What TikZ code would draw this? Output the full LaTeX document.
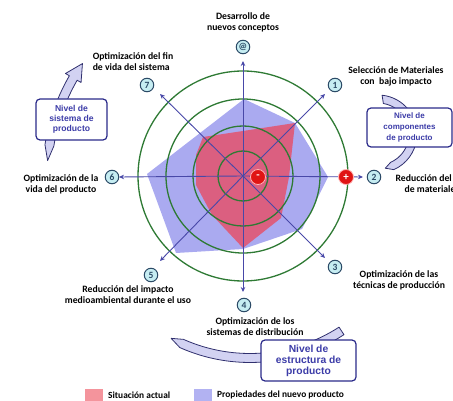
\documentclass[tikz,border=0pt]{standalone}
\usepackage{fontspec}
\setmainfont{Carlito}
\newfontfamily\boxfont{Liberation Sans}
\usetikzlibrary{arrows.meta}
\definecolor{ringgreen}{HTML}{2E7A34}
\definecolor{axisblue}{HTML}{4848A8}
\definecolor{nuevofill}{HTML}{AAAAF0}
\definecolor{actualfill}{HTML}{DB5F80}
\definecolor{actualleg}{HTML}{F4949C}
\definecolor{nuevoleg}{HTML}{B2B2F2}
\definecolor{numfill}{HTML}{C6EDF2}
\definecolor{numline}{HTML}{2B4A66}
\definecolor{boxline}{HTML}{2B2B8A}
\definecolor{boxtext}{HTML}{3C3CA8}
\definecolor{bandfill}{HTML}{D2D2F2}
\definecolor{bandline}{HTML}{30306E}
\definecolor{signred}{HTML}{E01414}
\tikzset{
  ring/.style={draw=ringgreen, line width=1.3pt},
  axis/.style={draw=axisblue, line width=0.9pt, ->},
  num/.style={circle, draw=numline, fill=numfill, line width=1pt, inner sep=0pt,
    minimum size=13.5pt, text=numline, font=\fontsize{9.5}{10}\selectfont\bfseries},
  sign/.style={circle, fill=signred, draw=red!30, line width=0.8pt, inner sep=0pt,
    minimum size=15pt, text=white, font=\fontsize{11}{11}\selectfont\bfseries},
  lbl/.style={align=center, inner sep=0pt, font=\fontsize{9.7}{11}\selectfont\bfseries},
  nivel/.style={draw=boxline, fill=white, rounded corners=4pt, line width=1.2pt,
    align=center, inner sep=0pt, text=boxtext},
  band/.style={draw=bandline, fill=bandfill, line width=0.8pt, line join=round},
  legbox/.style={inner sep=0pt, minimum width=18pt, minimum height=13pt},
  legtxt/.style={anchor=west, inner sep=0pt, font=\fontsize{9.4}{10}\selectfont\bfseries}
}
\begin{document}
\begin{tikzpicture}[x=1pt,y=-1pt,>={Stealth[length=5pt,width=4.5pt]}]
\useasboundingbox (0,0) rectangle (453,401);
\coordinate (O) at (243,176);

% propiedades del nuevo producto
\fill[nuevofill] (244,99) -- (295,123) -- (328,177) -- (302,229) -- (243,249)
  -- (176,253) -- (147,174) -- cycle;
% situacion actual
\fill[actualfill] (203,137) -- (243,131) -- (295,123) -- (289,177) -- (281,218)
  -- (243,248) -- (212,215) -- (196,185) -- (196,155) -- cycle;

% anillos
\foreach \r in {25,50,77,105}
  \draw[ring] (O) circle[radius=\r];

% ejes
\coordinate (tN) at (243,61);   \coordinate (tNE) at (325,94);
\coordinate (tE) at (363,177);  \coordinate (tSE) at (325,258);
\coordinate (tS) at (243,292);  \coordinate (tSW) at (160,261);
\coordinate (tW) at (119,177);  \coordinate (tNW) at (160,94);
\foreach \t in {tN,tNE,tE,tSE,tS,tSW,tW,tNW}
  \draw[axis] (O) -- (\t);

\node[sign] (menos) at (258,177) {-};
\node[sign] (mas) at (346,177) {+};

% numeros
\node[num] (n0) at (243,47) {@};
\node[num] (n1) at (335,85) {1};
\node[num] (n2) at (374,177) {2};
\node[num] (n3) at (335,267) {3};
\node[num] (n4) at (244,305) {4};
\node[num] (n5) at (151,275) {5};
\node[num] (n6) at (112,177) {6};
\node[num] (n7) at (147,85) {7};

% textos
\node[lbl] (l0) at (243,22) {Desarrollo de\\nuevos conceptos};
\node[lbl, align=left] (l7) at (133,62) {Optimización del fin\\de vida del sistema};
\node[lbl] (l1) at (396,76) {Selección de Materiales\\con\ \ bajo impacto};
\node[lbl] (l2) at (432,184) {Reducción del uso\\de materiales};
\node[lbl] (l6) at (61,184) {Optimización de la\\vida del producto};
\node[lbl] (l3) at (399,280) {Optimización de las\\técnicas de producción};
\node[lbl] (l5) at (128,295) {Reducción del impacto\\medioambiental durante el uso};
\node[lbl] (l4) at (255,327) {Optimización de los\\sistemas de distribución};

% flechas curvas
\begin{scope}[shift={(243,176)}]
  \filldraw[band] (-171:200.5) arc[start angle=-171, end angle=-150, radius=200.5]
    -- (-150:205) -- (-145:196) -- (-150:187) -- (-150:191.5)
    arc[start angle=-150, end angle=-171, radius=191.5] -- (-175.5:196) -- cycle;
\end{scope}
\begin{scope}[shift={(378,134)}]
  \filldraw[band] (-84:39) arc[start angle=-84, end angle=66, radius=39]
    -- (78:35) -- (66:31) arc[start angle=66, end angle=-80, radius=31] -- cycle;
\end{scope}
\begin{scope}[shift={(250,190)}]
  \filldraw[band] (114:172.5) arc[start angle=114, end angle=57, radius=172.5]
    -- (57:163.5) arc[start angle=57, end angle=114, radius=163.5] -- (118:168) -- cycle;
\end{scope}

% niveles
\node[nivel, minimum width=71pt, minimum height=41pt,
  font=\boxfont\fontsize{8.6}{10}\selectfont\bfseries] (sistema) at (71.5,119.5)
  {Nivel de\\sistema de\\producto};
\node[nivel, minimum width=85pt, minimum height=39pt,
  font=\boxfont\fontsize{8}{10.7}\selectfont\bfseries] (componentes) at (409.5,127.5)
  {Nivel de\\componentes\\de producto};
\node[nivel, minimum width=95pt, minimum height=41pt,
  font=\boxfont\fontsize{10.3}{11}\selectfont\bfseries] (estructura) at (308.5,360.5)
  {Nivel de\\estructura de\\producto};

% leyenda
\node[legbox, fill=actualleg] (legA) at (94,395) {};
\node[legtxt] (legAt) at (108,395) {Situación actual};
\node[legbox, fill=nuevoleg] (legN) at (202.5,395) {};
\node[legtxt] (legNt) at (217,395) {Propiedades del nuevo producto};
\end{tikzpicture}
\end{document}
